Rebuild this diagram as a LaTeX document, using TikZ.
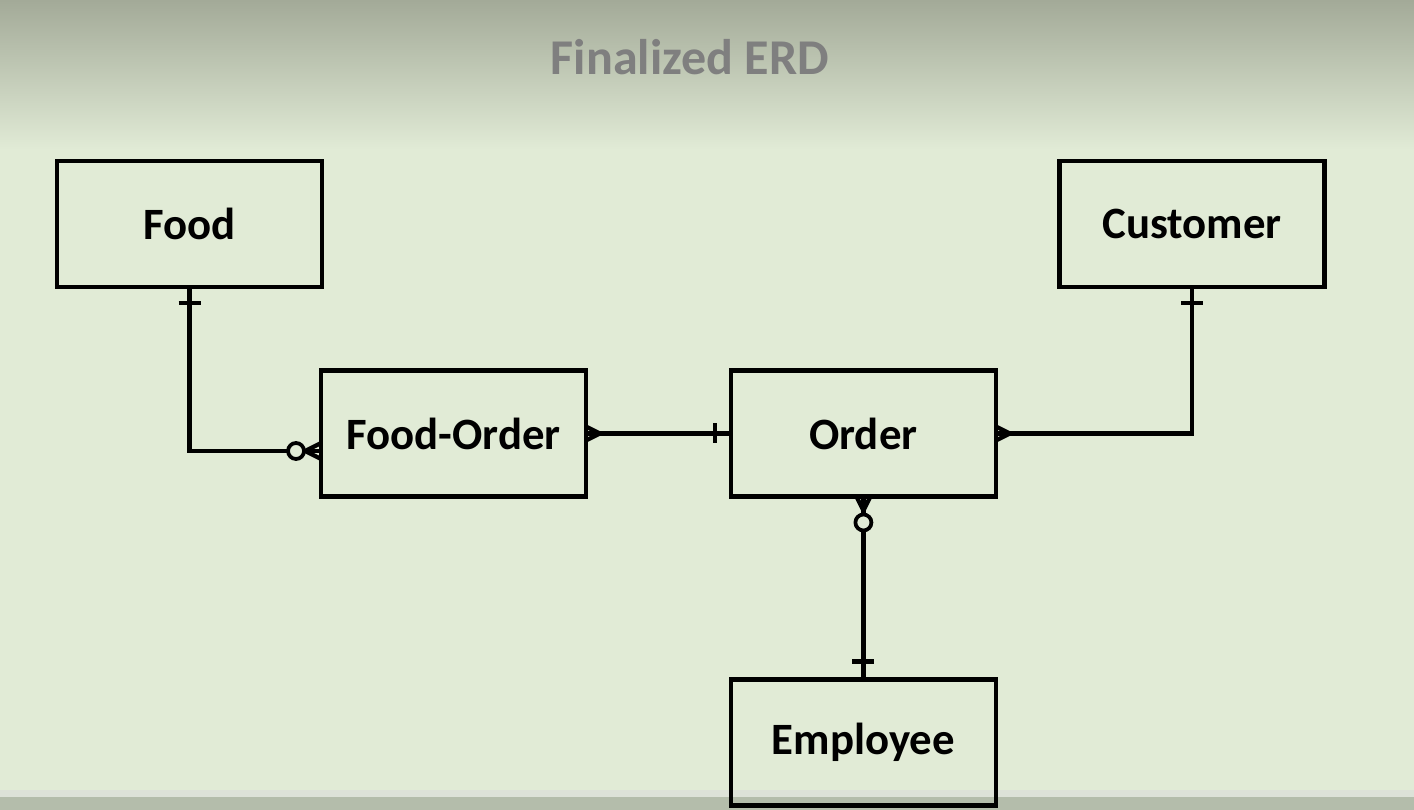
\documentclass[tikz,border=0pt]{standalone}
\usepackage{fontspec}
\setmainfont{Carlito}
\usetikzlibrary{calc,positioning}
\definecolor{slidebg}{HTML}{E1EBD6}
\definecolor{slidetop}{HTML}{A3AA98}
\definecolor{slidebar}{HTML}{DDE2D8}
\definecolor{slidefoot}{HTML}{B4BDAB}
\definecolor{titlegray}{HTML}{7F7F7F}

\begin{document}
\begin{tikzpicture}[x=0.02cm, y=-0.02cm, line width=0.095cm, node distance=2.9cm]
        \tikzstyle{entity}=[rectangle,draw=black,line width=0.095cm,outer sep=0pt,minimum width=5.3cm,minimum height=2.52cm,inner sep=0pt,align=center,font=\bfseries\fontsize{25.5}{29}\selectfont]
        \tikzstyle{notch}=[line width=0.085cm]
        \tikzstyle{ring}=[fill=slidebg,line width=0.075cm]

        % slide background
        \fill[slidebg] (0,0) rectangle (1414,810);
        \shade[top color=slidetop, bottom color=slidebg] (0,0) rectangle (1414,150);
        \fill[slidebar] (0,790) rectangle (1414,797);
        \fill[slidefoot] (0,797) rectangle (1414,810);
        \useasboundingbox (0,0) rectangle (1414,810);

        \node[font=\bfseries\fontsize{28.5}{34}\selectfont, text=titlegray] (title) at (690,57) {Finalized ERD};

        \node[entity] (food) at (189.5,224) {Food};
        \node[entity] (customer) at (1192,224) {Customer};
        \node[entity] (foodorder) at (453.5,433.5) {Food-Order};
        \node[entity, right=2.9cm of foodorder] (order) {Order};
        \node[entity, below=3.66cm of order] (employee) {Employee};

        % Food -- Food-Order
        \draw (food.south) |- ($(foodorder.west)+(0,17.5)$);
        \draw[notch] ($(food.south)+(-11,16)$) -- ++(22,0);
        \draw[notch] ($(foodorder.west)+(0,9.5)$) -- ($(foodorder.west)+(-16,17.5)$) -- ($(foodorder.west)+(0,25.5)$);
        \draw[ring] ($(foodorder.west)+(-25,17.5)$) circle (0.16cm);

        % Food-Order -- Order
        \draw (foodorder.east) -- (order.west);
        \draw[notch] ($(foodorder.east)+(0,-7)$) -- ($(foodorder.east)+(14,0)$) -- ($(foodorder.east)+(0,7)$);
        \draw[notch] ($(order.west)+(-16,-10)$) -- ++(0,20);

        % Order -- Customer
        \draw (order.east) -| (customer.south);
        \draw[notch] ($(order.east)+(0,-7)$) -- ($(order.east)+(14,0)$) -- ($(order.east)+(0,7)$);
        \draw[notch] ($(customer.south)+(-11,16)$) -- ++(22,0);

        % Order -- Employee
        \draw (order.south) -- (employee.north);
        \draw[notch] ($(order.south)+(-7,0)$) -- ($(order.south)+(0,14)$) -- ($(order.south)+(7,0)$);
        \draw[ring] ($(order.south)+(0,26)$) circle (0.16cm);
        \draw[notch] ($(employee.north)+(-11,-18)$) -- ++(22,0);
    \end{tikzpicture}
\end{document}
